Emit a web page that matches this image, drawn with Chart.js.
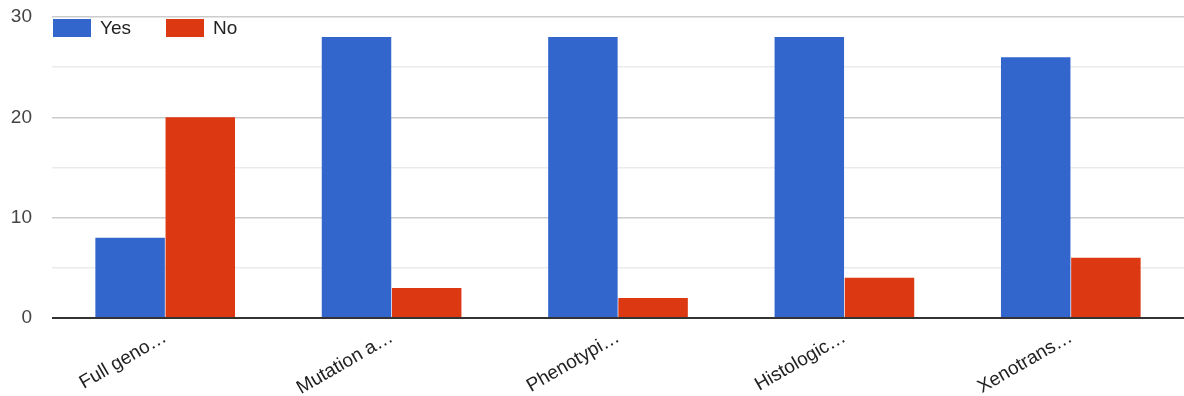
<!DOCTYPE html>
<html lang="en">
<head>
    <meta charset="UTF-8">
    <title>Yes / No chart</title>
    <script src="https://cdn.jsdelivr.net/npm/chart.js"></script>
    <style>
        body {
            margin: 0;
            background: #fff;
        }
        .chart-box {
            width: 1184px;
            height: 396px;
        }
    </style>
</head>
<body>
    <div class="chart-box">
        <canvas id="answersChart"></canvas>
    </div>
<script>
    // data
    const categories = ["Full geno\u2026", "Mutation a\u2026", "Phenotypi\u2026", "Histologic\u2026", "Xenotrans\u2026"];
    const yesCounts = [8, 28, 28, 28, 26];
    const noCounts = [20, 3, 2, 4, 6];
    const yTicks = [0, 10, 20, 30];

    const FONT = 'Arial, "Liberation Sans", sans-serif';

    // legend drawn inside the plot, top left, like the google chart
    const insideLegend = {
        id: 'insideLegend',
        afterDraw(chart) {
            const c = chart.ctx;
            const area = chart.chartArea;
            let x = area.left + 1;
            const y = area.top + 2;
            c.save();
            c.font = '19px ' + FONT;
            c.textBaseline = 'middle';
            chart.data.datasets.forEach(ds => {
                c.fillStyle = ds.backgroundColor;
                c.fillRect(x, y, 38, 18);
                c.fillStyle = '#222';
                c.fillText(ds.label, x + 47, y + 10);
                x += 113;
            });
            c.restore();
        }
    };

    const ctx = document.getElementById('answersChart').getContext('2d');
    new Chart(ctx, {
        type: 'bar',
        data: {
            labels: categories,
            datasets: [
                { label: 'Yes', data: yesCounts, backgroundColor: '#3366cc', borderWidth: 0 },
                { label: 'No', data: noCounts, backgroundColor: '#dc3912', borderWidth: 0 }
            ]
        },
        plugins: [insideLegend],
        options: {
            responsive: true,
            maintainAspectRatio: false,
            animation: false,
            layout: { padding: 0 },
            datasets: {
                bar: { categoryPercentage: 0.62, barPercentage: 0.99 }
            },
            plugins: {
                tooltip: { enabled: false },
                legend: { display: false }
            },
            scales: {
                x: {
                    grid: { display: false },
                    border: { display: false },
                    ticks: {
                        color: '#222',
                        font: { family: FONT, size: 19 },
                        padding: 0,
                        minRotation: 30,
                        maxRotation: 30,
                        autoSkip: false
                    },
                    afterFit: function (scale) { scale.height = 78; }
                },
                y: {
                    min: 0,
                    max: 30,
                    border: { display: false },
                    ticks: {
                        stepSize: 5,
                        color: '#444',
                        padding: 20,
                        font: { family: FONT, size: 19 },
                        callback: function (v) { return yTicks.includes(v) ? v : ''; }
                    },
                    grid: {
                        drawTicks: false,
                        color: function (c) {
                            const v = c.tick.value;
                            if (v === 0) return '#333';
                            return v % 10 === 0 ? '#cccccc' : '#ebebeb';
                        },
                        lineWidth: function (c) { return c.tick.value === 0 ? 2 : 1.5; }
                    },
                    afterFit: function (scale) {
                        scale.width = 52;
                        scale.paddingTop = 17;
                    }
                }
            }
        }
    });
</script>
</body>
</html>
